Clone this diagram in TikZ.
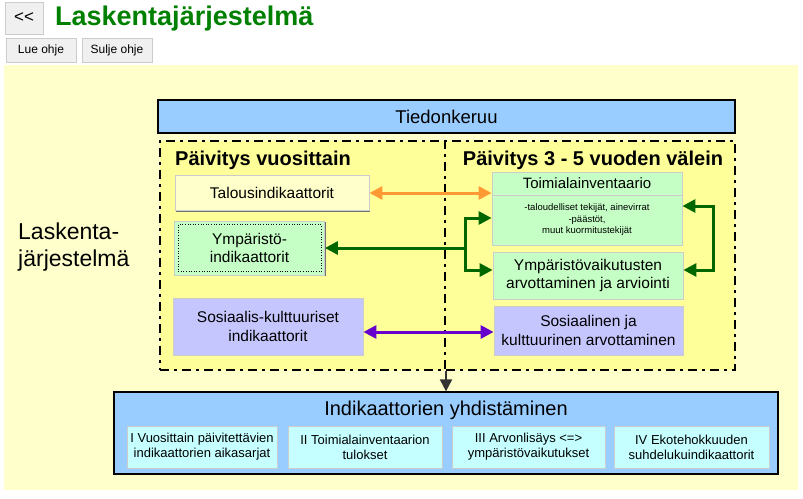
\documentclass[tikz,border=0pt]{standalone}
\usepackage{fontspec}
\setmainfont{Liberation Sans}
\usetikzlibrary{arrows.meta,shadows}

\definecolor{paneback}{HTML}{FFFFCC}
\definecolor{framefill}{HTML}{FFFF99}
\definecolor{headblue}{HTML}{99CCFF}
\definecolor{ecogreen}{HTML}{C6FFC6}
\definecolor{soclilac}{HTML}{C6C6FF}
\definecolor{subcyan}{HTML}{C6FFFF}
\definecolor{titlegreen}{HTML}{008000}
\definecolor{arroworange}{HTML}{FF9933}
\definecolor{arrowgreen}{HTML}{006600}
\definecolor{arrowpurple}{HTML}{6600CC}
\definecolor{arrowgray}{HTML}{333333}

\tikzset{
  raised/.style={draw=white!80!black, line width=0.8pt, inner sep=0pt, align=center,
    drop shadow={shadow xshift=1.3pt, shadow yshift=-1.3pt, fill=gray!90!black, opacity=1}},
  button/.style={raised, fill=gray!12, font=\fontsize{12}{14}\selectfont},
  bluebox/.style={draw=black, line width=1.2pt, fill=headblue, inner sep=0pt},
  infobox/.style={raised, font=\fontsize{15.5}{18.5}\selectfont},
  subbox/.style={raised, fill=subcyan, minimum height=42pt, font=\fontsize{13}{15}\selectfont},
  framedash/.style={line width=2.8pt, dash pattern=on 9pt off 5pt on 3pt off 5pt},
  heading/.style={font=\fontsize{20}{22}\selectfont\bfseries, inner sep=0pt},
  link/.style={line width=3pt, >={Triangle[length=13pt,width=13pt]}},
}

\begin{document}
\begin{tikzpicture}[x=1pt, y=-1pt]
  \useasboundingbox (0,0) rectangle (803,498);
  \fill[paneback] (4,65) rectangle (798,490);

  % top bar
  \node[button, minimum width=38pt, minimum height=32pt, font=\fontsize{17}{19}\selectfont] (back) at (24,18) {{<}{<}};
  \node[anchor=west, inner sep=0pt, text=titlegreen, font=\fontsize{27}{30}\selectfont\bfseries] (title) at (55,19) {Laskentajärjestelmä};
  \node[button, minimum width=70pt, minimum height=24pt] (lue) at (41,50) {Lue ohje};
  \node[button, minimum width=70pt, minimum height=24pt] (sulje) at (117,50) {Sulje ohje};

  \node[align=left, anchor=west, inner sep=0pt, font=\fontsize{23}{27}\selectfont] (laskenta) at (18,247) {Laskenta-\\järjestelmä};

  % data collection
  \node[bluebox, minimum width=577pt, minimum height=33pt, font=\fontsize{18.5}{20}\selectfont] (tiedon) at (446.5,116.5) {Tiedonkeruu};

  \node[framedash, draw=black, fill=framefill, minimum width=575pt, minimum height=229pt, inner sep=0pt] (frame) at (447.5,255.5) {};
  \coordinate (divx) at (445,255);
  \draw[framedash] (frame.north -| divx) -- (frame.south -| divx);

  \node[heading, anchor=west] (vuosi) at (175,160) {Päivitys vuosittain};
  \node[heading] (valein) at (593,160) {Päivitys 3 - 5 vuoden välein};

  % yearly indicators
  \node[infobox, fill=paneback, minimum width=194pt, minimum height=35pt] (talous) at (272,193) {Talousindikaattorit};
  \node[infobox, fill=ecogreen, minimum width=150pt, minimum height=54pt] (ymp) at (249.5,248) {Ympäristö-\\indikaattorit};
  \draw[dotted, line width=0.6pt] ([shift={(4,4)}]ymp.north west) rectangle ([shift={(-4,-4)}]ymp.south east);
  \node[infobox, fill=soclilac, minimum width=190pt, minimum height=57pt] (sosk) at (268,326.5) {Sosiaalis-kulttuuriset\\indikaattorit};

  % periodic studies
  \node[infobox, fill=ecogreen, minimum width=190pt, minimum height=23pt, font=\fontsize{15}{17}\selectfont] (toim) at (587,183.5) {Toimialainventaario};
  \node[infobox, fill=ecogreen, minimum width=190pt, minimum height=50pt, font=\fontsize{9.5}{11.5}\selectfont] (toimbody) at (587,220) {-taloudelliset tekijät, ainevirrat\\-päästöt,\\muut kuormitustekijät};
  \node[infobox, fill=ecogreen, minimum width=190pt, minimum height=47pt] (ympv) at (588,275.5) {Ympäristövaikutusten\\arvottaminen ja arviointi};
  \node[infobox, fill=soclilac, minimum width=189pt, minimum height=49pt] (sosv) at (588.5,330.5) {Sosiaalinen ja\\kulttuurinen arvottaminen};

  % connectors
  \draw[link, arroworange, <->] (talous.east) -- (talous.east -| toim.south west);

  \coordinate (jn) at (465,248);
  \coordinate (gtop) at (465,218);
  \coordinate (gbot) at (465,270);
  \draw[link, arrowgreen, ->] (jn) -- (ymp.east);
  \draw[link, arrowgreen, ->] (jn) -- (gtop) -- (gtop -| toimbody.west);
  \draw[link, arrowgreen, ->] (jn) -- (gbot) -- (gbot -| ympv.west);

  \coordinate (ltop) at (713,206);
  \coordinate (lbot) at (713,270);
  \draw[link, arrowgreen, <->] (ltop -| toimbody.east) -- (ltop) -- (lbot) -- (lbot -| ympv.east);

  \coordinate (pl) at (430,332);
  \draw[link, arrowpurple, <->] (pl -| sosk.east) -- (pl -| sosv.west);

  % combining indicators
  \node[bluebox, minimum width=664pt, minimum height=82pt] (yhd) at (446,433) {};
  \node[inner sep=0pt, font=\fontsize{20}{22}\selectfont] (yhdtitle) at (446,410) {Indikaattorien yhdistäminen};
  \draw[arrowgray, line width=2pt, -{Triangle[length=12pt,width=12pt]}] (frame.south -| yhd.north) -- (yhd.north);

  \node[subbox, minimum width=150pt] (aika) at (202,447) {I Vuosittain päivitettävien\\indikaattorien aikasarjat};
  \node[subbox, minimum width=154pt] (tulos) at (365,447) {II Toimialainventaarion\\tulokset};
  \node[subbox, minimum width=153pt] (arvo) at (528.5,447) {III Arvonlisäys {<}={>}\\ympäristövaikutukset};
  \node[subbox, minimum width=155pt] (suhde) at (691.5,447) {IV Ekotehokkuuden\\suhdelukuindikaattorit};
\end{tikzpicture}
\end{document}
